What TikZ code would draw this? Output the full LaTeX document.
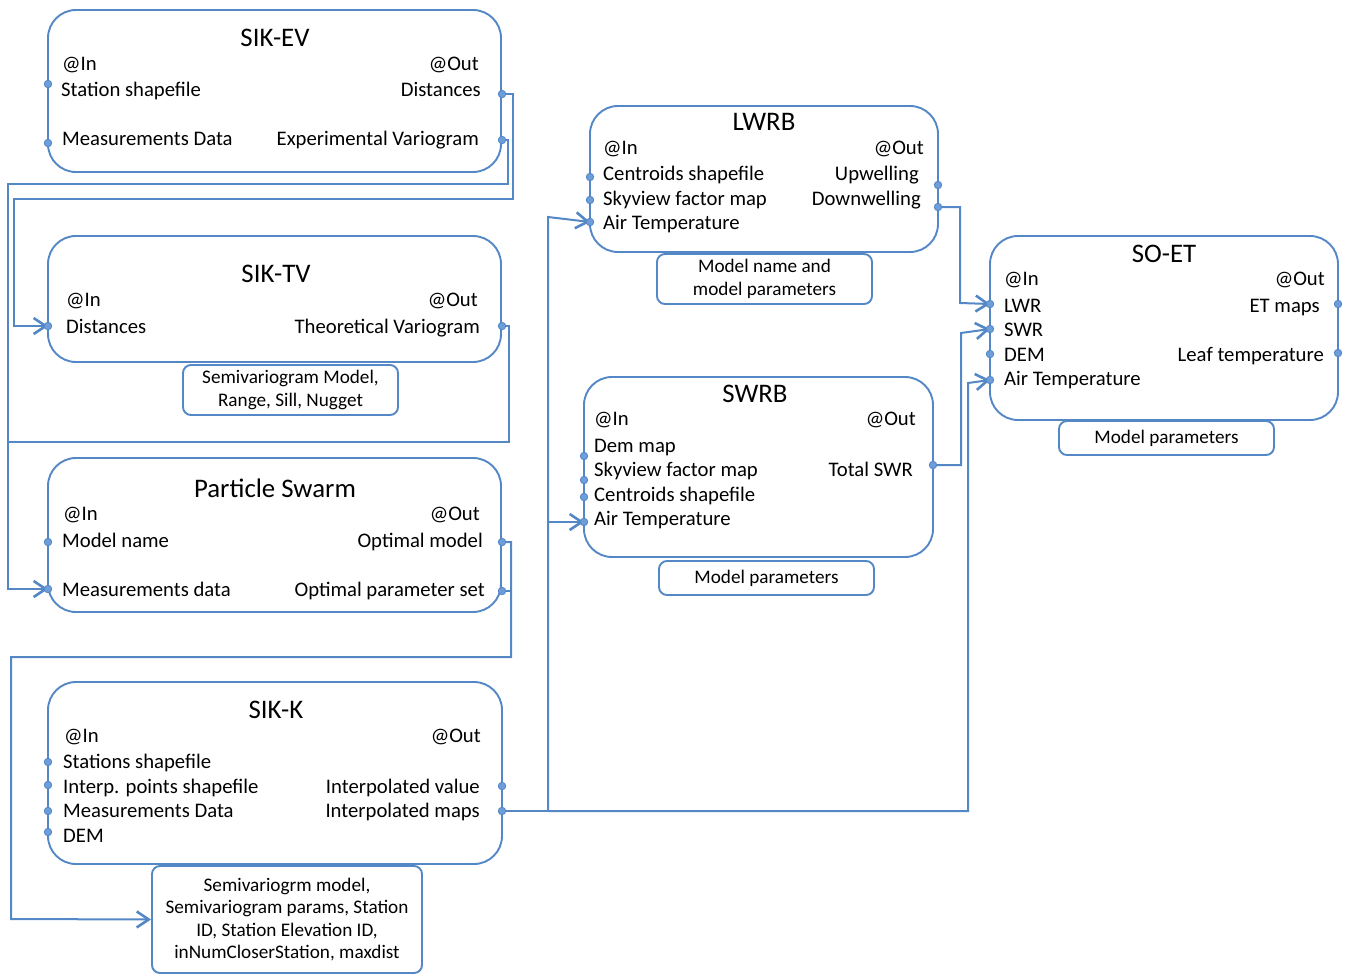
\documentclass[tikz,border=0pt]{standalone}
\usepackage{fontspec}
\setmainfont{Carlito}
\usetikzlibrary{arrows.meta}
\definecolor{lineblue}{RGB}{84,135,198}
\definecolor{dotblue}{RGB}{110,158,218}
\tikzset{
  bigbox/.style={draw=lineblue, line width=1.9pt, rounded corners=28pt, inner sep=0pt},
  pbox/.style={draw=lineblue, line width=1.9pt, rounded corners=8pt, inner sep=0pt, align=center, font=\fontsize{19.2}{22.3}\selectfont},
  ttl/.style={inner sep=0pt, font=\fontsize{26.8}{30}\selectfont, anchor=base, yshift=-9pt},
  lbl/.style={inner sep=0pt, font=\fontsize{20.7}{24}\selectfont, anchor=base west, yshift=-7pt},
  rlbl/.style={lbl, anchor=base east},
  port/.style={circle, draw=lineblue, fill=dotblue, line width=0.8pt, inner sep=0pt, minimum size=7.5pt},
  conn/.style={draw=lineblue, line width=2pt},
  arr/.style={conn, -{Straight Barb[length=12pt,width=16pt,line width=2.6pt]}},
}
\begin{document}
\begin{tikzpicture}[x=1pt,y=-1pt]
\useasboundingbox (0,0) rectangle (1345,975);

% ---------- SIK-EV ----------
\node[bigbox, minimum width=453pt, minimum height=162pt] (ev) at (274.5,91) {};
\node[ttl] (evt) at (275,37) {SIK-EV};
\node[lbl] (evin) at (62,63) {@In};
\node[lbl] (evl1) at (61,89) {Station shapefile};
\node[lbl] (evl2) at (62,138) {Measurements Data};
\node[rlbl] (evout) at (479,63) {@Out};
\node[rlbl] (evr1) at (481,89) {Distances};
\node[rlbl] (evr2) at (479,138) {Experimental Variogram};

% ---------- SIK-TV ----------
\node[bigbox, minimum width=453pt, minimum height=126pt] (tv) at (274.5,299) {};
\node[ttl] (tvt) at (276,273) {SIK-TV};
\node[lbl] (tvin) at (66,299) {@In};
\node[lbl] (tvl1) at (66,326) {Distances};
\node[rlbl] (tvout) at (478,299) {@Out};
\node[rlbl] (tvr1) at (480,326) {Theoretical Variogram};
\node[pbox, minimum width=215pt, minimum height=50pt] (tvp) at (290.5,390) {Semivariogram Model,\\Range, Sill, Nugget};

% ---------- Particle Swarm ----------
\node[bigbox, minimum width=453pt, minimum height=154pt] (ps) at (274.5,535) {};
\node[ttl] (pst) at (275,488) {Particle Swarm};
\node[lbl] (psin) at (63,513) {@In};
\node[lbl] (psl1) at (62,540) {Model name};
\node[lbl] (psl2) at (62,589) {Measurements data};
\node[rlbl] (psout) at (480,513) {@Out};
\node[rlbl] (psr1) at (483,540) {Optimal model};
\node[rlbl] (psr2) at (485,589) {Optimal parameter set};

% ---------- SIK-K ----------
\node[bigbox, minimum width=454pt, minimum height=182pt] (k) at (275,773) {};
\node[ttl] (kt) at (276,709) {SIK-K};
\node[lbl] (kin) at (64,735) {@In};
\node[lbl] (kl1) at (63,761) {Stations shapefile};
\node[lbl] (kl2) at (63,786) {Interp. points shapefile};
\node[lbl] (kl3) at (63,810) {Measurements Data};
\node[lbl] (kl4) at (63,835) {DEM};
\node[rlbl] (kout) at (481,735) {@Out};
\node[rlbl] (kr1) at (480,786) {Interpolated value};
\node[rlbl] (kr2) at (480,810) {Interpolated maps};
\node[pbox, minimum width=270pt, minimum height=107pt] (kp) at (287,919.5) {Semivariogrm model,\\Semivariogram params, Station\\ID, Station Elevation ID,\\inNumCloserStation, maxdist};

% ---------- LWRB ----------
\node[bigbox, minimum width=348pt, minimum height=146pt] (lw) at (764,179) {};
\node[ttl] (lwt) at (764,121) {LWRB};
\node[lbl] (lwin) at (603,147) {@In};
\node[lbl] (lwl1) at (603,173) {Centroids shapefile};
\node[lbl] (lwl2) at (603,198) {Skyview factor map};
\node[lbl] (lwl3) at (603,222) {Air Temperature};
\node[rlbl] (lwout) at (924,147) {@Out};
\node[rlbl] (lwr1) at (919,173) {Upwelling};
\node[rlbl] (lwr2) at (921,198) {Downwelling};
\node[pbox, minimum width=215pt, minimum height=50pt] (lwp) at (764.5,279) {Model name and\\model parameters};

% ---------- SWRB ----------
\node[bigbox, minimum width=349pt, minimum height=180pt] (sw) at (758.5,467) {};
\node[ttl] (swt) at (755,393) {SWRB};
\node[lbl] (swin) at (594,418) {@In};
\node[lbl] (swl1) at (594,445) {Dem map};
\node[lbl] (swl2) at (594,469) {Skyview factor map};
\node[lbl] (swl3) at (594,494) {Centroids shapefile};
\node[lbl] (swl4) at (594,518) {Air Temperature};
\node[rlbl] (swout) at (916,418) {@Out};
\node[rlbl] (swr1) at (913,469) {Total SWR};
\node[pbox, minimum width=215pt, minimum height=34pt] (swp) at (766.5,578) {Model parameters};

% ---------- SO-ET ----------
\node[bigbox, minimum width=348pt, minimum height=184pt] (so) at (1164,328) {};
\node[ttl] (sot) at (1164,253) {SO-ET};
\node[lbl] (soin) at (1004,278) {@In};
\node[lbl] (sol1) at (1004,305) {LWR};
\node[lbl] (sol2) at (1004,329) {SWR};
\node[lbl] (sol3) at (1004,354) {DEM};
\node[lbl] (sol4) at (1004,378) {Air Temperature};
\node[rlbl] (soout) at (1325,278) {@Out};
\node[rlbl] (sor1) at (1320,305) {ET maps};
\node[rlbl] (sor2) at (1324,354) {Leaf temperature};
\node[pbox, minimum width=215pt, minimum height=34pt] (sop) at (1166.5,438) {Model parameters};

% ---------- routing points ----------
\coordinate (a1) at (513,199);
\coordinate (a2) at (14,326);
\coordinate (b1) at (508,184);
\coordinate (b2) at (8,589);
\coordinate (b3) at (509,442);
\coordinate (b4) at (8,442);
\coordinate (c1) at (511,657);
\coordinate (c2) at (11,919);
\coordinate (c3) at (511,591);
\coordinate (d1) at (548,811);
\coordinate (d2) at (548,217);
\coordinate (d3) at (548,522);
\coordinate (d4) at (968,383);
\coordinate (e1) at (960,303);
\coordinate (e2) at (961,333);

% ---------- connectors ----------
\draw[arr] (502,94) coordinate (evo1) -| (a1) -| (a2) -- (48,326) coordinate (tvi1);
\draw[arr] (502,140) coordinate (evo2) -| (b1) -| (b2) -- (48,589) coordinate (psi2);
\draw[conn] (502,326) coordinate (tvo1) -| (b3) -- (b4);
\draw[arr] (502,542) coordinate (pso1) -| (c1) -| (c2) -- (kp.west);
\draw[conn] (502,591) coordinate (pso2) -- (c3);
\draw[conn] (502,811) coordinate (ko2) -- (d1);
\draw[arr] (d1) -- (d2) -- (590,222) coordinate (lwi3);
\draw[arr] (d3) -- (584,522) coordinate (swi4);
\draw[arr] (d1) -| (d4) -- (990,380) coordinate (soi4);
\draw[arr] (938,207) coordinate (lwo2) -| (e1) -- (990,304) coordinate (soi1);
\draw[arr] (933,465) coordinate (swo1) -| (e2) -- (990,329) coordinate (soi2);

% ---------- ports ----------
\foreach \p in {(48,84),(48,143),(502,94),(502,140),
                (48,326),(502,326),
                (48,542),(48,589),(502,542),(502,591),
                (48,762),(48,785),(48,811),(48,832),(502,786),(502,811),
                (590,177),(590,200),(590,222),(938,185),(938,207),
                (584,456),(584,480),(584,497),(584,522),(933,465),
                (990,304),(990,329),(990,354),(990,380),(1338,304),(1338,353)}
  \node[port] at \p {};
\end{tikzpicture}
\end{document}
